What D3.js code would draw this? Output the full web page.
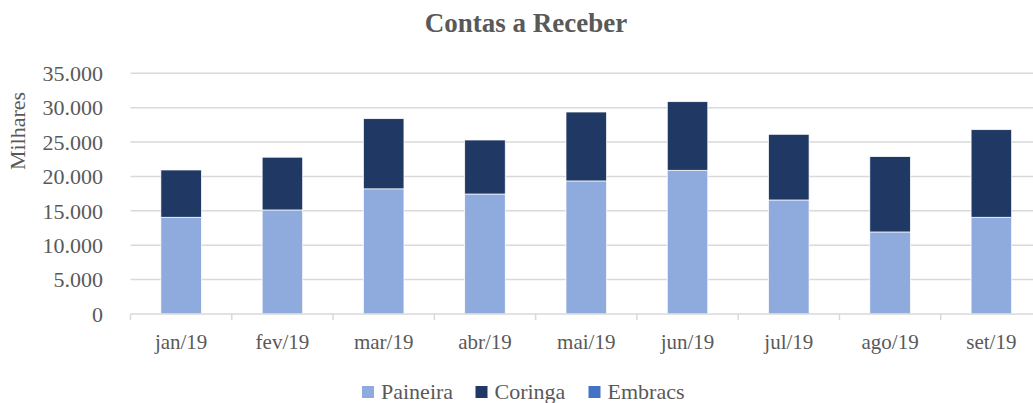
<!DOCTYPE html>
<html>
<head>
<meta charset="utf-8">
<script src="https://cdn.jsdelivr.net/npm/d3@7"></script>
<style>
  body { margin: 0; background: #fff; }
  text { font-family: "Liberation Serif", serif; fill: #595959; }
</style>
</head>
<body>
<svg id="chart" width="1033" height="403"></svg>
<script>
// data (values in units, axis shows "Milhares")
var months = ["jan/19", "fev/19", "mar/19", "abr/19", "mai/19", "jun/19", "jul/19", "ago/19", "set/19"];
var paineira = [14070, 15130, 18200, 17450, 19350, 20900, 16580, 11930, 14070];
var coringa = [6870, 7670, 10200, 7850, 10020, 9970, 9550, 10950, 12730];
var embracs = [0, 0, 0, 0, 0, 0, 0, 0, 0];
var seriesNames = ["Paineira", "Coringa", "Embracs"];
var seriesColors = ["#8FAADC", "#1F3864", "#4472C4"];
var yTicks = [0, 5000, 10000, 15000, 20000, 25000, 30000, 35000];

var svg = d3.select("#chart");
var plotL = 130.5, plotR = 1042, plotT = 73.3, plotB = 314;

var x = d3.scaleBand().domain(months).range([plotL, plotR]).paddingInner(0.6).paddingOuter(0.3);
var xb = d3.scaleBand().domain(months).range([plotL, plotR]);
var y = d3.scaleLinear().domain([0, 35000]).range([plotB, plotT]);

// gridlines
svg.append("g").selectAll("line").data(yTicks.filter(d => d > 0)).enter()
  .append("line")
  .attr("x1", plotL).attr("x2", plotR)
  .attr("y1", d => y(d)).attr("y2", d => y(d))
  .attr("stroke", "#D9D9D9").attr("stroke-width", 1.5);

// y labels
var fmt = d => d3.format(",")(d).replace(/,/g, ".");
svg.append("g").selectAll("text").data(yTicks).enter()
  .append("text")
  .attr("x", 103).attr("y", d => y(d))
  .attr("dy", "0.35em")
  .attr("text-anchor", "end")
  .style("font-size", "22px")
  .text(fmt);

// stacked bars
var rows = months.map((m, i) => ({ m: m, Paineira: paineira[i], Coringa: coringa[i], Embracs: embracs[i] }));
var stack = d3.stack().keys(seriesNames)(rows);

svg.append("g").selectAll("g").data(stack).enter()
  .append("g")
  .attr("fill", (d, i) => seriesColors[i])
  .selectAll("rect").data(d => d.filter(v => v[1] > v[0])).enter()
  .append("rect")
  .attr("x", d => x(d.data.m))
  .attr("width", x.bandwidth())
  .attr("y", d => y(d[1]))
  .attr("height", d => y(d[0]) - y(d[1]))
  .attr("stroke", "#fff").attr("stroke-width", 0.7);

// x axis line + ticks
svg.append("line")
  .attr("x1", plotL).attr("x2", plotR)
  .attr("y1", plotB).attr("y2", plotB)
  .attr("stroke", "#D9D9D9").attr("stroke-width", 1.5);
var bounds = months.map(m => xb(m)).concat([plotR]);
svg.append("g").selectAll("line").data(bounds).enter()
  .append("line")
  .attr("x1", d => d).attr("x2", d => d)
  .attr("y1", plotB).attr("y2", plotB + 6)
  .attr("stroke", "#D9D9D9").attr("stroke-width", 1.5);

svg.append("g").selectAll("text").data(months).enter()
  .append("text")
  .attr("x", d => xb(d) + xb.bandwidth() / 2)
  .attr("y", 349)
  .attr("text-anchor", "middle")
  .style("font-size", "21px")
  .text(d => d);

// y axis title
svg.append("text")
  .attr("transform", "translate(25,131) rotate(-90)")
  .attr("text-anchor", "middle")
  .style("font-size", "22px")
  .text("Milhares");

// title
svg.append("text")
  .attr("x", 526).attr("y", 32)
  .attr("text-anchor", "middle")
  .style("font-size", "27px")
  .style("font-weight", "bold")
  .text("Contas a Receber");

// legend
var legX = [362, 475.5, 588.5];
var leg = svg.append("g").selectAll("g").data(seriesNames).enter()
  .append("g")
  .attr("transform", (d, i) => "translate(" + legX[i] + ",386)");
leg.append("rect")
  .attr("width", 12).attr("height", 12)
  .attr("fill", (d, i) => seriesColors[i]);
leg.append("text")
  .attr("x", 19).attr("y", 13)
  .style("font-family", "'Liberation Serif', serif")
  .style("font-size", "22px")
  .text(d => d);
</script>
</body>
</html>
